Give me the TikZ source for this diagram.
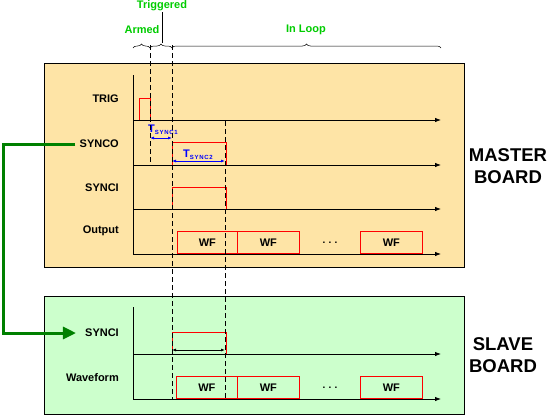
\documentclass[tikz,border=0pt]{standalone}
\usepackage{fontspec}
\setmainfont{Liberation Sans}
\newfontfamily\subfont[LetterSpace=12]{Liberation Sans}
\usetikzlibrary{arrows.meta,decorations.pathreplacing}
\definecolor{masterfill}{RGB}{254,228,166}
\definecolor{slavefill}{RGB}{204,255,204}
\definecolor{phasegreen}{RGB}{0,204,0}
\definecolor{linkgreen}{RGB}{0,128,0}
\begin{document}
\begin{tikzpicture}[x=1pt,y=-1pt,
        board/.style = {draw,line width=0.9pt,inner sep=0,anchor=north west},
        axis/.style = {line width=0.8pt,-{Latex[length=6pt,width=4.5pt]}},
        pulse/.style = {draw=red,line width=0.8pt},
        timeline/.style = {dash pattern=on 5pt off 3pt,line width=0.8pt},
        sig/.style = {font=\fontsize{11}{13}\selectfont\bfseries,anchor=east,inner sep=1pt},
        phase/.style = {font=\fontsize{11}{13}\selectfont\bfseries,text=phasegreen,inner sep=1pt},
        title/.style = {font=\fontsize{18.5}{22}\selectfont\bfseries,align=center},
        wfbox/.style = {draw=red,line width=0.8pt,anchor=south west,minimum height=22pt,inner sep=0,
            font=\fontsize{11}{13}\selectfont\bfseries},
        tsync/.style = {text=blue,inner sep=0,anchor=base west},
        period/.style = {line width=0.8pt,{Latex[length=4pt,width=3pt]}-{Latex[length=4pt,width=3pt]}},
        phasebrace/.style = {decorate,decoration={brace,amplitude=4pt},line width=0.5pt}]
    \useasboundingbox (0,0) rectangle (549,416);
    % boards
    \node [board,fill=masterfill,minimum width=420pt,minimum height=204pt] (master) at (44,63) {};
    \node [board,fill=slavefill,minimum width=420pt,minimum height=118pt] (slave) at (44,296) {};
    \node [title] (mtitle) at (508,166) {MASTER\\BOARD};
    \node [title] (stitle) at (503,355) {SLAVE\\BOARD};
    % master time lines
    \draw [line width=0.8pt] (133,75) -- (133,254);
    \foreach \y in {120,165,209,254}
        \draw [axis] (133,\y) -- (441,\y);
    \node [sig] (trig) at (120,99) {TRIG};
    \node [sig] (synco) at (120,144) {SYNCO};
    \node [sig] (synci) at (120,188) {SYNCI};
    \node [sig] (output) at (120,231) {Output};
    \draw [pulse] (139,120) -- (139,98) -- (150,98) -- (150,120);
    \draw [pulse] (172,165) -- (172,142) -- (226,142) -- (226,165);
    \draw [pulse] (172,209) -- (172,187) -- (226,187) -- (226,209);
    \node [wfbox,minimum width=60pt] (wf1) at (177,254) {WF};
    \node [wfbox,minimum width=62pt] (wf2) at (237,254) {WF};
    \node [wfbox,minimum width=62pt] (wf3) at (360,254) {WF};
    \node [font=\bfseries] (dots) at (330,243) {.\,\,.\,\,.};
    \draw [period,blue] (150,138) -- (172,138);
    \draw [period,blue] (172,161) -- (225,161);
    \node [tsync] (tsync1) at (148,132) {\fontsize{11}{12}\selectfont\bfseries T\raisebox{-2pt}{\subfont\fontsize{6}{7}\selectfont\bfseries SYNC1}};
    \node [tsync] (tsync2) at (183,157) {\fontsize{11}{12}\selectfont\bfseries T\raisebox{-2pt}{\subfont\fontsize{6}{7}\selectfont\bfseries SYNC2}};
    % slave time lines
    \draw [line width=0.8pt] (133,307) -- (133,399);
    \foreach \y in {354,399}
        \draw [axis] (133,\y) -- (441,\y);
    \node [sig] (ssynci) at (120,333) {SYNCI};
    \node [sig] (waveform) at (120,378) {Waveform};
    \draw [pulse] (172,354) -- (172,332) -- (226,332) -- (226,354);
    \draw [period] (172,350) -- (225,350);
    \node [wfbox,minimum width=61pt] (swf1) at (176,399) {WF};
    \node [wfbox,minimum width=62pt] (swf2) at (237,399) {WF};
    \node [wfbox,minimum width=62pt] (swf3) at (360,399) {WF};
    \node [font=\bfseries] (sdots) at (330,388) {.\,\,.\,\,.};
    % phases
    \draw [timeline] (150,45) -- (150,165);
    \draw [timeline] (172,45) -- (172,399);
    \draw [timeline] (225,121) -- (225,399);
    \draw [phasebrace] (133,48) -- (150,48);
    \draw [phasebrace] (150,48) -- (172,48);
    \draw [phasebrace] (172,48) -- (441,48);
    \node [phase] (armed) at (142,30) {Armed};
    \node [phase] (triggered) at (162,6) {Triggered};
    \node [phase] (inloop) at (306,30) {In Loop};
    \draw [line width=0.5pt] (triggered.south) -- (162,43);
    % sync link
    \coordinate (bend) at (3,144);
    \draw [linkgreen,line width=3pt,-{Triangle[length=13pt,width=12pt]},shorten <=3pt,shorten >=8pt]
        (synco.west) -- (bend) |- (ssynci.west);
\end{tikzpicture}
\end{document}
